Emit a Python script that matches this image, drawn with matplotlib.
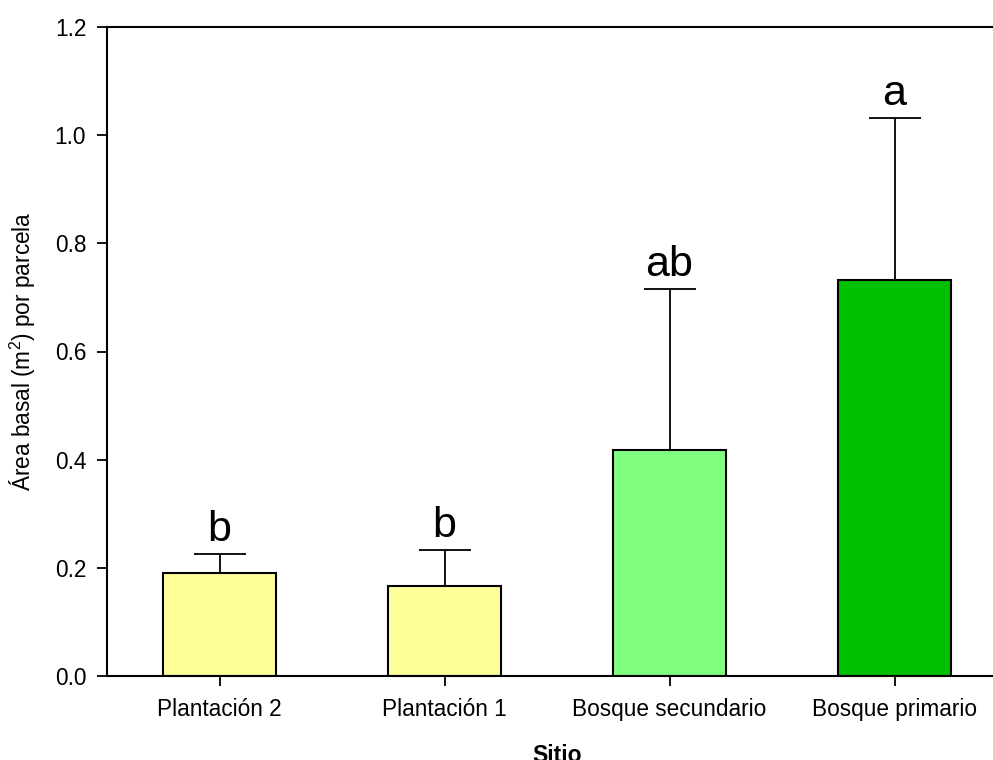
import matplotlib
matplotlib.use('Agg')
import matplotlib.pyplot as plt

# datos
SITIOS = ['Plantación 2', 'Plantación 1', 'Bosque secundario', 'Bosque primario']
MEDIAS = [0.190, 0.166, 0.418, 0.732]
ERRORES = [0.036, 0.067, 0.298, 0.300]
LETRAS = ['b', 'b', 'ab', 'a']
COLORES = ['#FFFF99', '#FFFF99', '#80FF80', '#00C000']

plt.rcParams['font.family'] = ['Liberation Sans', 'DejaVu Sans']
plt.rcParams['font.stretch'] = 'normal'
plt.rcParams['mathtext.fontset'] = 'custom'
plt.rcParams['mathtext.rm'] = 'Liberation Sans'
plt.rcParams['mathtext.it'] = 'Liberation Sans'

fig = plt.figure(figsize=(9.93, 7.6), dpi=100)
ax = fig.add_axes([107/993, 84/760, 900/993, 649/760])

x = list(range(len(SITIOS)))
ax.bar(x, MEDIAS, width=0.5, color=COLORES, edgecolor='black', linewidth=1.5, zorder=2)
ax.errorbar(x, MEDIAS, yerr=[[0]*len(ERRORES), ERRORES], fmt='none',
            ecolor='black', elinewidth=1.3, capsize=19, capthick=1.3, zorder=1)

for xi, m, e, l in zip(x, MEDIAS, ERRORES, LETRAS):
    ax.annotate(l, (xi, m + e), xytext=(0, 9), textcoords='offset points',
                ha='center', va='baseline', fontsize=31)

ax.set_xlim(-0.5, 3.5)
ax.set_ylim(0, 1.2)
ax.set_yticks([0.0, 0.2, 0.4, 0.6, 0.8, 1.0, 1.2])
ax.set_yticklabels(['0.0', '0.2', '0.4', '0.6', '0.8', '1.0', '1.2'])
ax.set_xticks(x)
ax.set_xticklabels(SITIOS)
ax.tick_params(direction='out', length=7, width=1.3, labelsize=16.3)
ax.tick_params(axis='x', pad=8.5)
ax.tick_params(axis='y', pad=8)
ax.spines['right'].set_visible(False)
for s in ['left', 'bottom', 'top']:
    ax.spines[s].set_linewidth(1.5)

ax.set_xlabel('Sitio', fontsize=16.5, fontweight='bold', labelpad=17)
ax.set_ylabel('Área basal (m$^{2}$) por parcela', fontsize=16.3, labelpad=12)

fig.savefig('out.png', dpi=100)
